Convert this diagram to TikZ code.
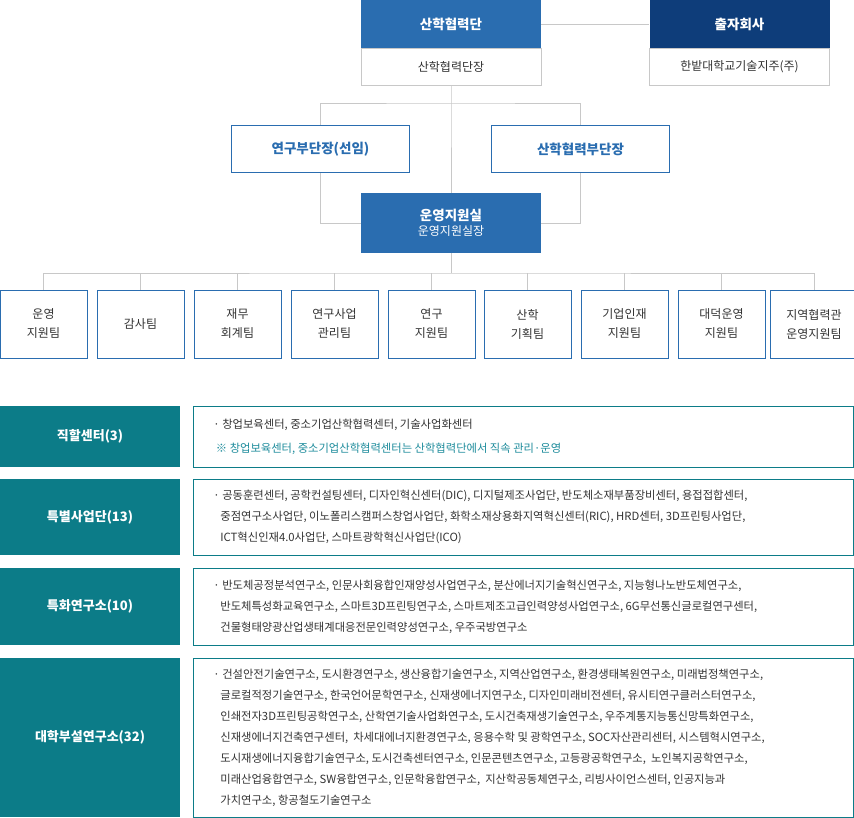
\documentclass[tikz,border=0pt]{standalone}
\usepackage{fontspec}
\setmainfont{Noto Sans CJK KR}
\usetikzlibrary{positioning}
\definecolor{mainblue}{HTML}{2A6DB0}
\definecolor{navy}{HTML}{0E3D7A}
\definecolor{teal}{HTML}{0C7C88}
\definecolor{noteteal}{HTML}{1E8C9C}
\definecolor{linegray}{HTML}{C8C8C8}
\definecolor{textgray}{HTML}{333333}
\tikzset{
  headbox/.style={rectangle, fill=mainblue, text=white, minimum width=180pt, minimum height=48pt, font=\fontsize{13.5}{16}\selectfont\bfseries, inner sep=0pt},
  subbox/.style={rectangle, draw=linegray, fill=white, text=textgray, minimum width=180pt, minimum height=37pt, font=\fontsize{12}{14}\selectfont, inner sep=0pt},
  vicebox/.style={rectangle, draw=mainblue, line width=1.2pt, fill=white, text=mainblue, minimum width=178pt, minimum height=47pt, font=\fontsize{13.5}{16}\selectfont\bfseries, inner sep=0pt},
  teambox/.style={rectangle, draw=mainblue, fill=white, text=textgray, minimum width=87pt, minimum height=68pt, align=center, font=\fontsize{12}{19}\selectfont, inner sep=0pt},
  catbox/.style={rectangle, fill=teal, text=white, minimum width=180pt, font=\fontsize{13}{16}\selectfont\bfseries, inner sep=0pt},
  listbox/.style={rectangle, draw=teal, line width=0.9pt, fill=white, minimum width=660pt, inner sep=0pt},
  listtext/.style={anchor=west, align=left, text=textgray, font=\fontsize{11.3}{21}\selectfont, inner sep=0pt},
  link/.style={draw=linegray, line width=0.9pt}
}
\newcommand{\cont}{\hspace*{7pt}}
\begin{document}
\begin{tikzpicture}[x=1pt, y=-1pt]
\useasboundingbox (0,0) rectangle (854,818);
%% Top nodes
\node[headbox] (hq) at (451,24) {산학협력단};
\node[subbox] (hq_head) at (451,66.5) {산학협력단장};
\node[headbox, fill=navy] (holding) at (739.5,24) {출자회사};
\node[subbox] (holding_sub) at (739.5,66.5) {한밭대학교기술지주(주)};
\node[vicebox] (vice_res) at (320.5,149) {연구부단장(선임)};
\node[vicebox] (vice_coop) at (580.5,149) {산학협력부단장};
\node[headbox, minimum height=60pt, align=center] (office) at (451,223) {운영지원실\\[-1pt]{\fontsize{12}{14}\selectfont\mdseries 운영지원실장}};

%% Teams
\foreach \x/\name/\label in {43.5/t1/운영\\지원팀, 140.5/t2/감사팀, 237.5/t3/재무\\회계팀, 334.5/t4/연구사업\\관리팀, 431.5/t5/연구\\지원팀, 527.5/t6/산학\\기획팀, 624.5/t7/기업인재\\지원팀, 721.5/t8/대덕운영\\지원팀, 814/t9/지역협력관\\운영지원팀}
  \node[teambox] (\name) at (\x,324) {\label};

%% Connectors
\coordinate (split) at (451,103);
\coordinate (bus) at (451,273);
\draw[link] (hq.east) -- (holding.west);
\draw[link] (hq_head.south) -- (split) -- (office.north);
\draw[link] (vice_res.north) |- (split) -| (vice_coop.north);
\draw[link] (vice_res.south) |- (office.west);
\draw[link] (vice_coop.south) |- (office.east);
\draw[link] (office.south) -- (bus);
\draw[link] (t1.north) |- (bus) -| (t9.north);
\foreach \name in {t2,t3,t4,t5,t6,t7,t8}
  \draw[link] (\name.north) -- (\name.north |- bus);

%% Categories
\node[catbox, minimum height=61pt] (cat1) at (90,436.5) {직할센터(3)};
\node[listbox, minimum height=61pt, right=13pt of cat1] (list1) {};
\node[listtext] at ([xshift=20pt]list1.west) {· 창업보육센터, 중소기업산학협력센터, 기술사업화센터\\[3pt]{\color{noteteal}\ ※ 창업보육센터, 중소기업산학협력센터는 산학협력단에서 직속 관리·운영}};

\node[catbox, minimum height=76pt] (cat2) at (90,517) {특별사업단(13)};
\node[listbox, minimum height=76pt, right=13pt of cat2] (list2) {};
\node[listtext] at ([xshift=20pt]list2.west) {· 공동훈련센터, 공학컨설팅센터, 디자인혁신센터(DIC), 디지털제조사업단, 반도체소재부품장비센터, 용접접합센터,\\\cont 중점연구소사업단, 이노폴리스캠퍼스창업사업단, 화학소재상용화지역혁신센터(RIC), HRD센터, 3D프린팅사업단,\\\cont ICT혁신인재4.0사업단, 스마트광학혁신사업단(ICO)};

\node[catbox, minimum height=77pt] (cat3) at (90,606.5) {특화연구소(10)};
\node[listbox, minimum height=77pt, right=13pt of cat3] (list3) {};
\node[listtext] at ([xshift=20pt]list3.west) {· 반도체공정분석연구소, 인문사회융합인재양성사업연구소, 분산에너지기술혁신연구소, 지능형나노반도체연구소,\\\cont 반도체특성화교육연구소, 스마트3D프린팅연구소, 스마트제조고급인력양성사업연구소, 6G무선통신글로컬연구센터,\\\cont 건물형태양광산업생태계대응전문인력양성연구소, 우주국방연구소};

\node[catbox, minimum height=159pt] (cat4) at (90,737.5) {대학부설연구소(32)};
\node[listbox, minimum height=159pt, right=13pt of cat4] (list4) {};
\node[listtext] at ([xshift=20pt]list4.west) {· 건설안전기술연구소, 도시환경연구소, 생산융합기술연구소, 지역산업연구소, 환경생태복원연구소, 미래법정책연구소,\\\cont 글로컬적정기술연구소, 한국언어문학연구소, 신재생에너지연구소, 디자인미래비전센터, 유시티연구클러스터연구소,\\\cont 인쇄전자3D프린팅공학연구소, 산학연기술사업화연구소, 도시건축재생기술연구소, 우주계통지능통신망특화연구소,\\\cont 신재생에너지건축연구센터,\ \ 차세대에너지환경연구소, 응용수학 및 광학연구소, SOC자산관리센터, 시스템혁시연구소,\\\cont 도시재생에너지융합기술연구소, 도시건축센터연구소, 인문콘텐츠연구소, 고등광공학연구소,\ \ 노인복지공학연구소,\\\cont 미래산업융합연구소, SW융합연구소, 인문학융합연구소,\ \ 지산학공동체연구소, 리빙사이언스센터, 인공지능과\\\cont 가치연구소, 항공철도기술연구소};
\end{tikzpicture}
\end{document}
